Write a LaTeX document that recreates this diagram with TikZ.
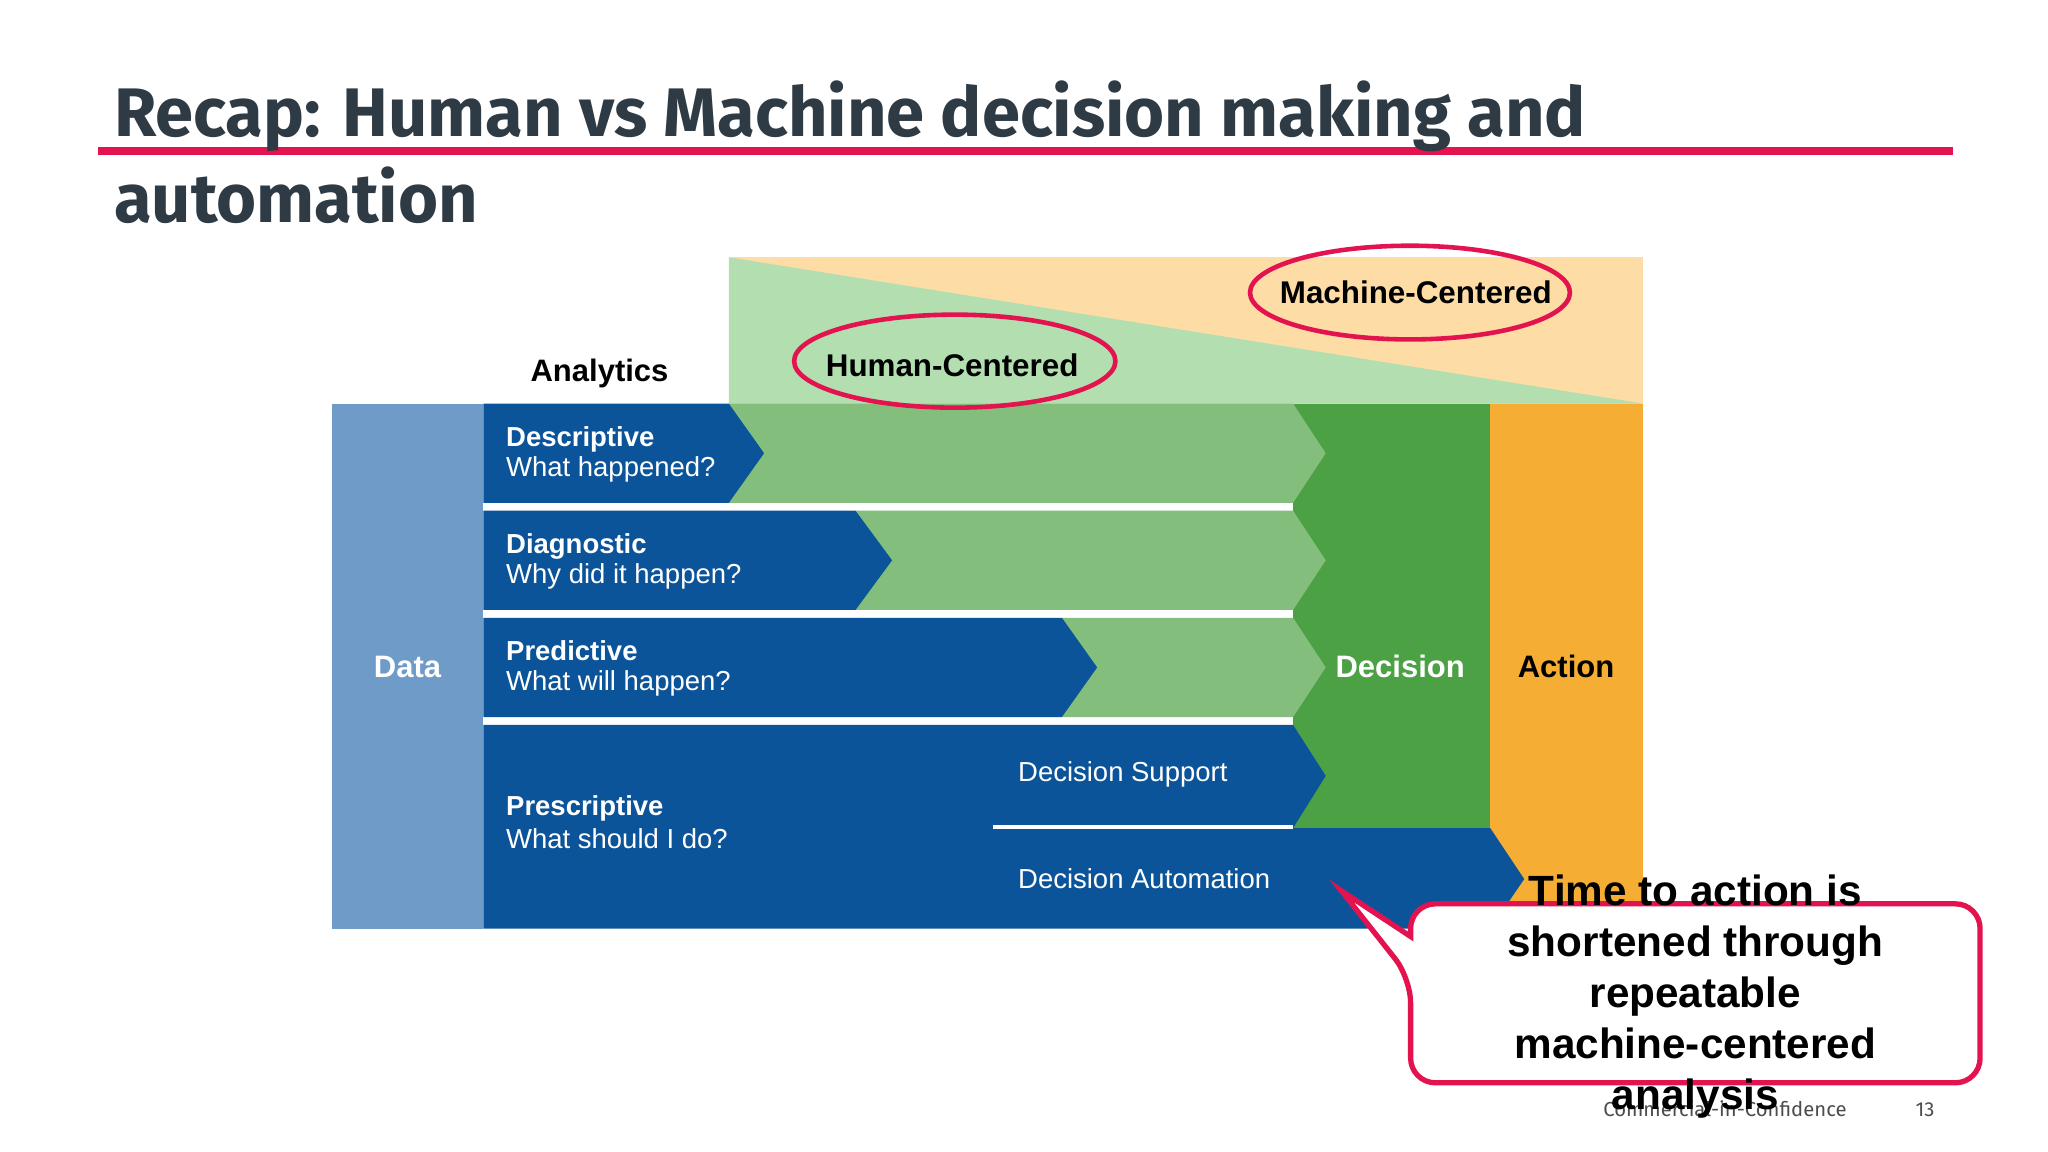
\documentclass[tikz,border=0pt]{standalone}
\usepackage{fontspec}
\setmainfont{Liberation Sans}
\newfontfamily\slidefont{Fira Sans}
\usetikzlibrary{shapes.geometric}

\definecolor{slideink}{HTML}{2E3A44}
\definecolor{accent}{HTML}{E3134F}
\definecolor{datablue}{HTML}{6F9BC9}
\definecolor{rowblue}{HTML}{0C5499}
\definecolor{lightgreen}{HTML}{84BE7C}
\definecolor{decgreen}{HTML}{4CA145}
\definecolor{actorange}{HTML}{F6AD34}
\definecolor{topamber}{HTML}{FDDCA6}
\definecolor{topgreen}{HTML}{B3DEB0}

\begin{document}
\begin{tikzpicture}[x=0.37073pt, y=-0.37073pt,
        title/.style={anchor=base west, inner sep=0pt, text=slideink,
                      font=\slidefont\bfseries\fontsize{19.5}{22}\selectfont},
        head/.style={anchor=base west, inner sep=0pt, text=white,
                     font=\bfseries\fontsize{7.8}{9}\selectfont},
        ask/.style={anchor=base west, inner sep=0pt, text=white,
                    font=\fontsize{7.8}{9}\selectfont},
        big label/.style={anchor=base, inner sep=0pt,
                          font=\bfseries\fontsize{8.8}{10}\selectfont},
        ring/.style={draw=accent, line width=1.3pt},
        callout/.style={draw=accent, line width=1.5pt, fill=white},
        footer/.style={anchor=base west, inner sep=0pt, text=black!70,
                       font=\slidefont\fontsize{5.75}{7}\selectfont}]

    \useasboundingbox[fill=white] (0,0) rectangle (1568,882);

    % Slide title with red rule
    \draw[accent, line width=2.4pt] (75,115.5) -- (1495,115.5);
    \node[title] (title top) at (87,104.7) {Recap: Human vs Machine decision making and};
    \node[title] (title bottom) at (87,170.5) {automation};

    % Human / machine band
    \fill[topamber] (558,197) rectangle (1258,309);
    \fill[topgreen] (558,197) -- (1258,309) -- (558,309) -- cycle;

    % Data, Decision and Action columns
    \fill[datablue] (254,309) rectangle (370,711);
    \fill[decgreen] (990,309) rectangle (1141,634);
    \fill[actorange] (1141,309) rectangle (1258,711);

    % Descriptive row
    \fill[lightgreen] (558,309) -- (990,309) -- (1015,347) -- (990,385) -- (558,385) -- cycle;
    \fill[rowblue] (370,309) -- (558,309) -- (585,347) -- (558,385) -- (370,385) -- cycle;

    % Diagnostic row
    \fill[lightgreen] (655,391) -- (990,391) -- (1015,429) -- (990,467) -- (655,467) -- cycle;
    \fill[rowblue] (370,391) -- (655,391) -- (683,429) -- (655,467) -- (370,467) -- cycle;

    % Predictive row
    \fill[lightgreen] (813,473) -- (990,473) -- (1015,511) -- (990,549) -- (813,549) -- cycle;
    \fill[rowblue] (370,473) -- (813,473) -- (840,511) -- (813,549) -- (370,549) -- cycle;

    % Prescriptive row: support and automation
    \fill[rowblue] (370,555) -- (990,555) -- (1015,594) -- (990,634) -- (1141,634)
        -- (1167,673) -- (1141,711) -- (370,711) -- cycle;
    \draw[white, line width=1.2pt] (760,633) -- (990,633);

    % Row labels
    \node[head] (desc) at (387,342) {Descriptive};
    \node[ask] (desc q) at (387,365) {What happened?};
    \node[head] (diag) at (387,423.5) {Diagnostic};
    \node[ask] (diag q) at (387,446.5) {Why did it happen?};
    \node[head] (pred) at (387,505.5) {Predictive};
    \node[ask] (pred q) at (387,528.5) {What will happen?};
    \node[head] (presc) at (387,624) {Prescriptive};
    \node[ask] (presc q) at (387,650) {What should I do?};
    \node[ask] (support) at (779,598.5) {Decision Support};
    \node[ask] (automation) at (779,680) {Decision Automation};

    % Column labels
    \node[big label] (analytics) at (459,292) {Analytics};
    \node[big label, text=white] (data) at (312,518.5) {Data};
    \node[big label, text=white] (decision) at (1072,518.5) {Decision};
    \node[big label] (action) at (1199,518.5) {Action};

    % Circled band labels
    \node[big label, font=\bfseries\fontsize{8.9}{10}\selectfont] (human) at (729,288) {Human-Centered};
    \draw[ring] (731,276.5) ellipse [x radius=45.6pt, y radius=13.2pt];
    \node[big label, font=\bfseries\fontsize{8.9}{10}\selectfont] (machine) at (1084,232) {Machine-Centered};
    \draw[ring] (1079.5,224) ellipse [x radius=45.4pt, y radius=13.3pt];

    % Footer
    \node[footer] (conf) at (1227,855) {Commercial-in-Confidence};
    \node[footer] (page) at (1466,855) {13};

    % Callout
    \coordinate (tail tip) at (1027,682);
    \draw[callout, rounded corners=7pt] (1080,749) [sharp corners] -- (tail tip) -- (1080,717)
        [rounded corners=7pt] -- (1080,692) -- (1516,692) -- (1516,829) -- (1080,829) -- cycle;
    \node[align=center, inner sep=0pt, font=\bfseries\fontsize{12}{14.5}\selectfont] (note) at (1298,763)
        {Time to action is\\shortened through\\repeatable\\machine-centered\\analysis};
\end{tikzpicture}
\end{document}
